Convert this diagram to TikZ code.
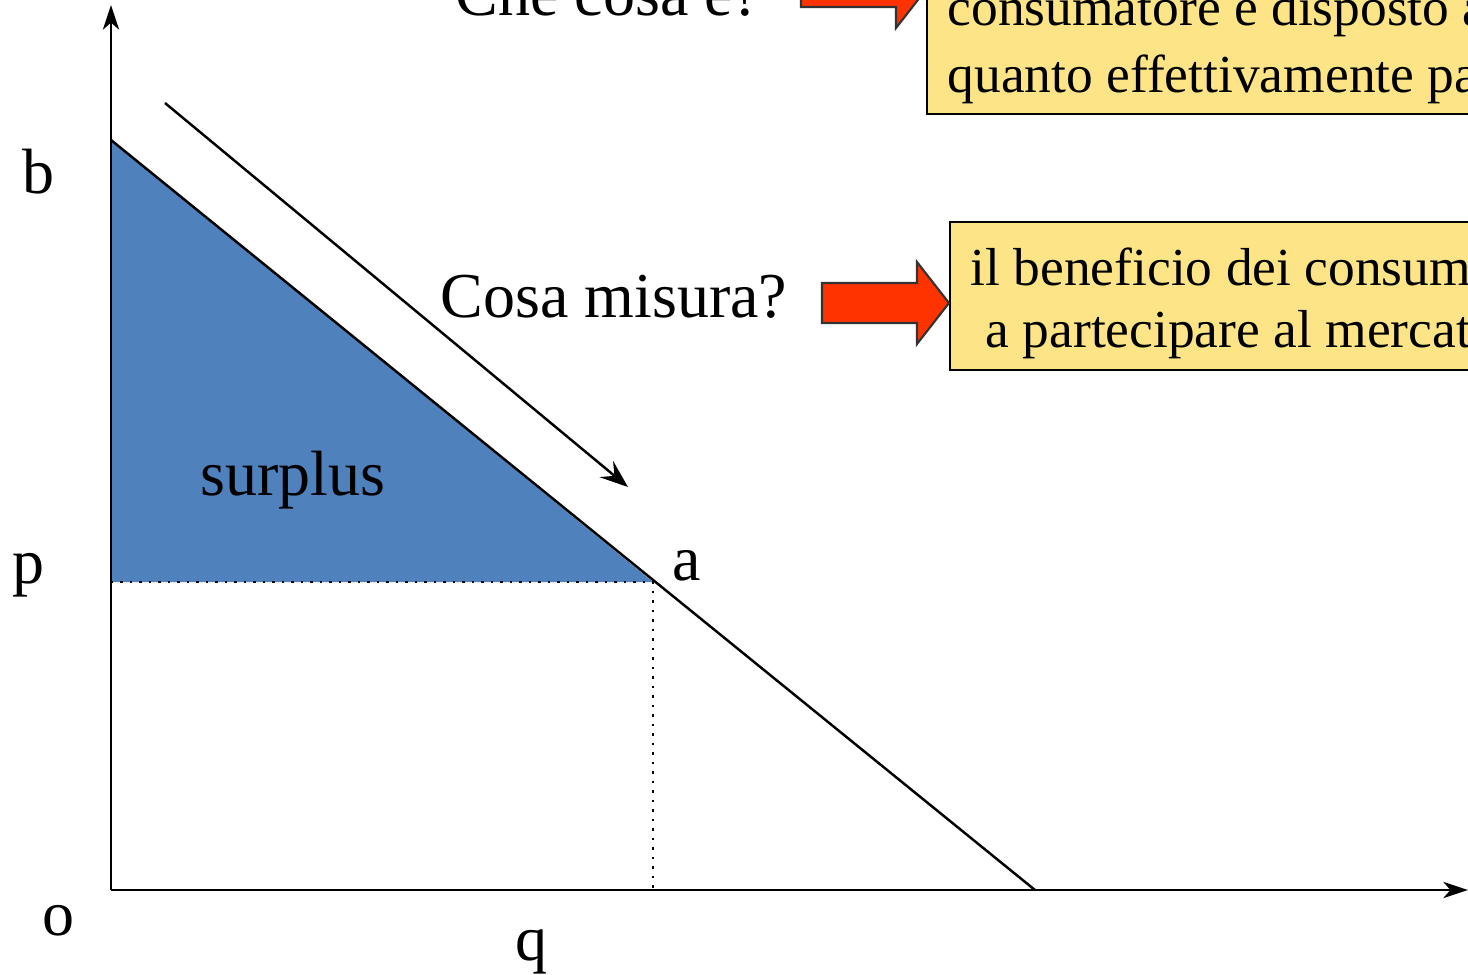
\documentclass[tikz,border=0pt]{standalone}
\usepackage{fontspec}
\setmainfont{Liberation Serif}
\usetikzlibrary{arrows.meta}

\definecolor{surplusblue}{RGB}{79,129,189}
\definecolor{notecolor}{RGB}{253,228,135}
\definecolor{arrowred}{RGB}{255,51,0}

\tikzset{
    axis/.style={line width=0.75pt,-{Stealth[length=7pt,width=4.6pt,inset=2pt]}},
    lbl/.style={anchor=base west,inner sep=0pt,font=\fontsize{18.2}{22}\selectfont},
    note/.style={draw=black,line width=0.5pt,fill=notecolor},
    notetext/.style={anchor=base west,inner sep=0pt,align=left,
        font=\fontsize{15.2}{18.2}\selectfont},
    bigarrow/.style={draw=black!80,line width=0.6pt,fill=arrowred}
}

\begin{document}
\begin{tikzpicture}[x=0.01cm,y=-0.01cm]
    \useasboundingbox (0,0) rectangle (1468,975);
    \clip (0,0) rectangle (1468,975);

    % key points of the graph
    \coordinate (o) at (111,890);
    \coordinate (ytop) at (111,5);
    \coordinate (xend) at (1468,890);
    \coordinate (b) at (111,140);
    \coordinate (a) at (653,582);
    \coordinate (p) at (111,582);
    \coordinate (q) at (653,890);
    \coordinate (dend) at (1035,890);

    % surplus area
    \fill[surplusblue] (b) -- (a) -- (p) -- cycle;

    % axes
    \draw[axis] (o) -- (ytop);
    \draw[axis] (o) -- (xend);

    % demand curve
    \draw[line width=0.7pt] (b) -- (dend);

    % dotted guides
    \draw[dotted,line width=0.7pt] (p) -- (a) -- (q);

    % arrow along the curve
    \coordinate (s1) at (165,103);
    \coordinate (s2) at (628,487);
    \draw[line width=0.7pt,-{Stealth[length=8pt,width=6pt,inset=3pt]}] (s1) -- (s2);

    % labels
    \node[lbl] (lb) at (22,193) {b};
    \node[lbl] (lp) at (12,583) {p};
    \node[lbl] (lo) at (42,935) {o};
    \node[lbl] (lq) at (515,960) {q};
    \node[lbl] (la) at (672,580) {a};
    \node[lbl] (lsurplus) at (200,495) {surplus};
    \node[lbl] (lmisura) at (440,317) {Cosa misura?};
    \node[lbl] (lcosa) at (455,15) {Che cosa è?};

    % note boxes
    \draw[note] (927,-60) rectangle (1500,114);
    \node[notetext] (nota1) at (947,25) {consumatore è disposto a};
    \node[notetext] (nota2) at (947,92) {quanto effettivamente paga};

    \draw[note] (950,222) rectangle (1500,370);
    \node[notetext] (notb1) at (970,285) {il beneficio dei consumatori};
    \node[notetext] (notb2) at (985,347) {a partecipare al mercato};

    % red arrows
    \foreach \x/\y in {801/-13, 822/303} {
        \draw[bigarrow] (\x,\y-20) -- (\x+95,\y-20) -- (\x+95,\y-41)
            -- (\x+127,\y) -- (\x+95,\y+41) -- (\x+95,\y+20)
            -- (\x,\y+20) -- cycle;
    }
\end{tikzpicture}
\end{document}
